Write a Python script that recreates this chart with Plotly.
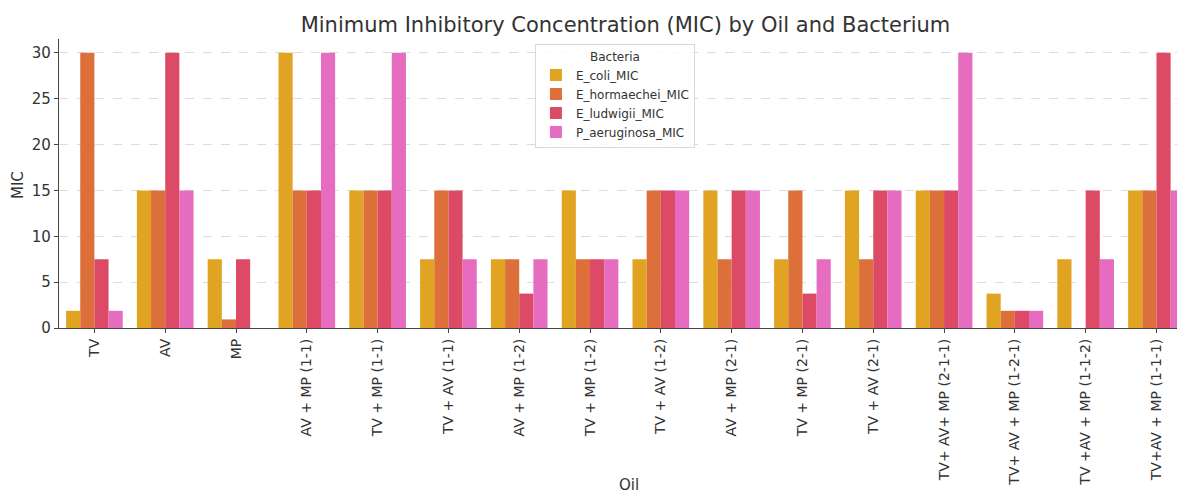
import plotly.graph_objects as go

oils = ["TV", "AV", "MP", "AV + MP (1-1)", "TV + MP (1-1)", "TV + AV (1-1)",
        "AV + MP (1-2)", "TV + MP (1-2)", "TV + AV (1-2)", "AV + MP (2-1)",
        "TV + MP (2-1)", "TV + AV (2-1)", "TV+ AV+ MP (2-1-1)",
        "TV+ AV + MP (1-2-1)", "TV +AV + MP (1-1-2)", "TV+AV + MP (1-1-1)"]

e_coli = [1.875, 15, 7.5, 30, 15, 7.5, 7.5, 15, 7.5, 15, 7.5, 15, 15, 3.75, 7.5, 15]
e_hormaechei = [30, 15, 0.9375, 15, 15, 15, 7.5, 7.5, 15, 7.5, 15, 7.5, 15, 1.875, 0, 15]
e_ludwigii = [7.5, 30, 7.5, 15, 15, 15, 3.75, 7.5, 15, 15, 3.75, 15, 15, 1.875, 15, 30]
p_aeruginosa = [1.875, 15, 0, 30, 30, 7.5, 7.5, 7.5, 15, 15, 7.5, 15, 30, 1.875, 7.5, 15]

series = [
    ("E_coli_MIC", e_coli, "#E0A322"),
    ("E_hormaechei_MIC", e_hormaechei, "#DD703A"),
    ("E_ludwigii_MIC", e_ludwigii, "#DC4A66"),
    ("P_aeruginosa_MIC", p_aeruginosa, "#E56CBF"),
]

font_family = "DejaVu Sans"
fig = go.Figure()
for name, vals, col in series:
    fig.add_trace(go.Bar(x=oils, y=vals, name=name, marker=dict(color=col, line=dict(width=0))))

fig.update_layout(
    width=1177, height=495,
    margin=dict(l=59, r=0, t=39, b=167, autoexpand=False),
    plot_bgcolor="white", paper_bgcolor="white",
    barmode="group", bargap=0.2, bargroupgap=0,
    font=dict(family=font_family, color="#333333"),
    title=dict(text="Minimum Inhibitory Concentration (MIC) by Oil and Bacterium",
               x=0.5314, xanchor="center", y=1 - 25 / 495, yanchor="middle",
               font=dict(size=21, color="#333333")),
    legend=dict(title=dict(text="Bacteria", side="top center", font=dict(size=12)),
                x=0.4257, xanchor="left", y=0.983, yanchor="top",
                bgcolor="rgba(255,255,255,0.8)", bordercolor="#d9d9d9", borderwidth=1,
                font=dict(size=12), tracegroupgap=0),
    showlegend=True,
    annotations=[
        dict(text="Oil", xref="paper", yref="paper", x=0.5095, y=(328 - 485) / 289,
             xanchor="center", yanchor="middle", showarrow=False, font=dict(size=15, color="#333333")),
        dict(text="MIC", xref="paper", yref="paper", x=-(59 - 18) / 1118, y=(328 - 185) / 289,
             xanchor="center", yanchor="middle", textangle=-90, showarrow=False,
             font=dict(size=15, color="#333333")),
    ],
)
fig.update_xaxes(
    range=[-0.5, 15.29], tickangle=-90, tickfont=dict(size=14), automargin=False,
    showline=True, linecolor="#444444", linewidth=1.3,
    ticks="outside", ticklen=4, tickcolor="#444444", showgrid=False,
)
fig.update_yaxes(
    range=[0, 31.5], tickvals=[0, 5, 10, 15, 20, 25, 30], tickfont=dict(size=15), automargin=False,
    showline=True, linecolor="#444444", linewidth=1.3,
    ticks="outside", ticklen=4, tickcolor="#444444",
    showgrid=True, gridcolor="#dddddd", griddash="dash", gridwidth=1, zeroline=False,
)
fig.write_html("out.html", config={"displayModeBar": False},
               post_script="document.body.style.margin='0';document.body.style.overflow='hidden';")
